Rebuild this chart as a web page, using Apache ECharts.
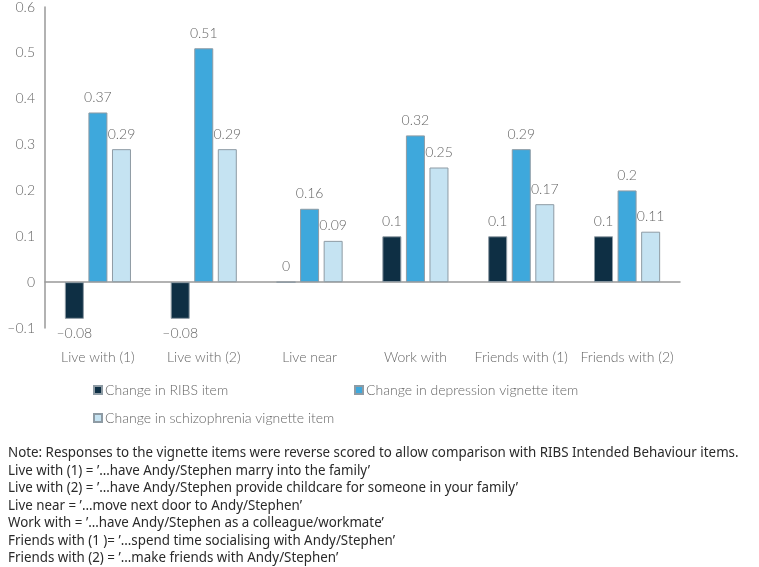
<!DOCTYPE html>
<html>
<head>
<meta charset="utf-8">
<script src="https://cdn.jsdelivr.net/npm/echarts@6/dist/echarts.min.js"></script>
<style>
html,body{margin:0;padding:0;background:#fff;}
#chart{width:759px;height:567px;}
</style>
</head>
<body>
<div id="chart"></div>
<script>
const categories = ['Live with (1)', 'Live with (2)', 'Live near', 'Work with', 'Friends with (1)', 'Friends with (2)'];
const ribsChange = [-0.08, -0.08, 0, 0.1, 0.1, 0.1];
const depressionChange = [0.37, 0.51, 0.16, 0.32, 0.29, 0.2];
const schizophreniaChange = [0.29, 0.29, 0.09, 0.25, 0.17, 0.11];
const seriesNames = ['Change in RIBS item', 'Change in depression vignette item', 'Change in schizophrenia vignette item'];
const yTicks = { min: -0.1, max: 0.6, interval: 0.1 };
const noteLines = [
  'Note: Responses to the vignette items were reverse scored to allow comparison with RIBS Intended Behaviour items.',
  'Live with (1) = \u2019\u2026have Andy/Stephen marry into the family\u2019',
  'Live with (2) = \u2019\u2026have Andy/Stephen provide childcare for someone in your family\u2019',
  'Live near = \u2019\u2026move next door to Andy/Stephen\u2019',
  'Work with = \u2019\u2026have Andy/Stephen as a colleague/workmate\u2019',
  'Friends with (1 )= \u2019\u2026spend time socialising with Andy/Stephen\u2019',
  'Friends with (2) = \u2019\u2026make friends with Andy/Stephen\u2019'
];

const FONT = 'Lato, "Open Sans", sans-serif';
const dash = v => String(v).replace('-', '\u2013');
const colors = ['#0e2f44', '#3ea8dc', '#c5e3f2'];

function mkSeries(name, vals, color) {
  return {
    name: name,
    type: 'bar',
    barWidth: 19,
    barGap: '24%',
    data: vals.map(v => v < 0 ? { value: v, label: { position: 'bottom' } } : v),
    itemStyle: { color: color, borderColor: '#8e9ba4', borderWidth: 1 },
    label: {
      show: true,
      position: 'top',
      distance: 8,
      color: '#666',
      fontFamily: FONT,
      fontWeight: 300,
      fontSize: 14,
      formatter: p => dash(p.value)
    }
  };
}

const chart = echarts.init(document.getElementById('chart'), null, { renderer: 'canvas' });
chart.setOption({
  animation: false,
  backgroundColor: '#fff',
  grid: { left: 45, right: 79, top: 7, bottom: 239, containLabel: false },
  legend: {
    left: 93, top: 381, width: 540, padding: 0,
    itemWidth: 8, itemHeight: 8, itemGap: 10,
    icon: 'rect',
    textStyle: { color: '#666', fontFamily: FONT, fontWeight: 300, fontSize: 14, width: 239, lineHeight: 18, padding: [0, 0, 0, -2] },
    data: seriesNames
  },
  xAxis: [
    {
      type: 'category', data: categories, position: 'bottom',
      axisLine: { show: false, onZero: false }, axisTick: { show: false },
      axisLabel: { margin: 22, color: '#666', fontFamily: FONT, fontWeight: 300, fontSize: 14, interval: 0 }
    },
    {
      type: 'category', data: categories, position: 'bottom',
      axisLine: { show: true, onZero: true, lineStyle: { color: '#999', width: 1.5 } },
      axisTick: { show: false }, axisLabel: { show: false }
    }
  ],
  yAxis: {
    type: 'value', min: yTicks.min, max: yTicks.max, interval: yTicks.interval,
    axisLine: { show: true, lineStyle: { color: '#999', width: 1.5 } },
    axisTick: { show: false }, splitLine: { show: false },
    axisLabel: {
      margin: 10, color: '#666', fontFamily: FONT, fontWeight: 300, fontSize: 14,
      formatter: v => dash(Math.round(v * 10) / 10)
    }
  },
  graphic: [{
    type: 'text', x: 8, y: 444, scaleX: 0.89, scaleY: 1,
    style: { x: 0, y: 0, text: noteLines.join('\n'), font: '15px "Noto Sans", sans-serif', fill: '#2a2a2a', lineHeight: 17.5, verticalAlign: 'top', align: 'left' }
  }],
  series: [
    mkSeries(seriesNames[0], ribsChange, colors[0]),
    mkSeries(seriesNames[1], depressionChange, colors[1]),
    mkSeries(seriesNames[2], schizophreniaChange, colors[2])
  ]
});
</script>
</body>
</html>
